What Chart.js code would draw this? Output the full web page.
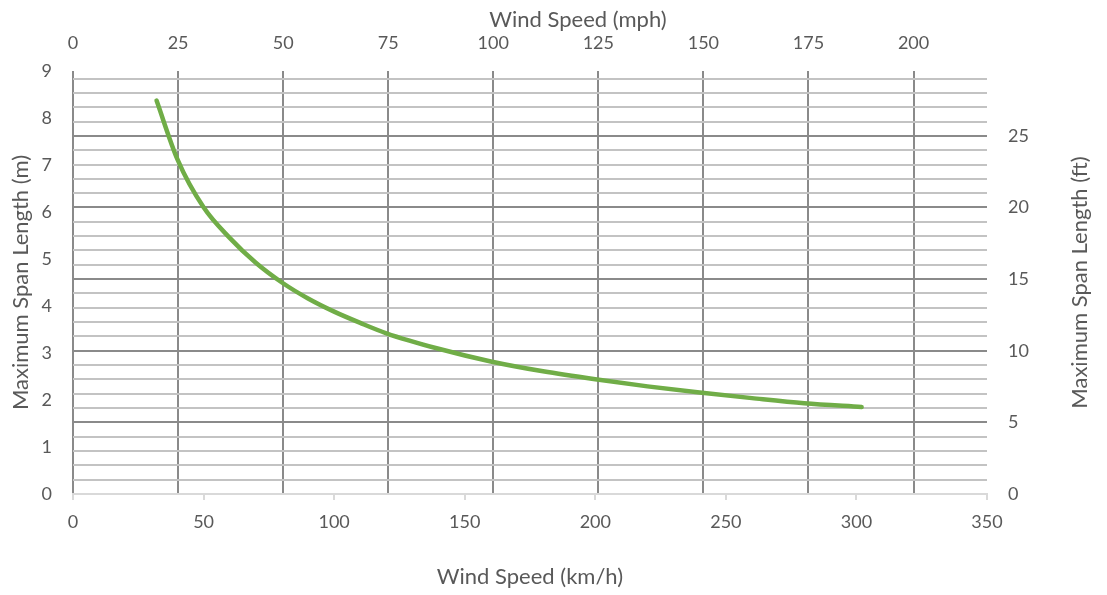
<!DOCTYPE html>
<html>
<head>
<meta charset="utf-8">
<script src="https://cdn.jsdelivr.net/npm/chart.js@4.4.1/dist/chart.umd.min.js"></script>
<style>
  html, body { margin: 0; padding: 0; background: #ffffff; }
  #wrap { width: 1107px; height: 595px; position: relative; }
</style>
</head>
<body>
<div id="wrap"><canvas id="c" width="1107" height="595"></canvas></div>
<script>
// Data
const speedKmh = [32, 40, 50, 60, 70, 80, 90, 100, 110, 120, 140, 160, 180, 200, 220, 240, 260, 280, 302];
const spanM    = [8.37, 7.12, 6.10, 5.45, 4.92, 4.50, 4.16, 3.88, 3.64, 3.42, 3.09, 2.82, 2.61, 2.44, 2.29, 2.16, 2.04, 1.93, 1.85];

// Axis settings
const kmhMax = 350, kmhStep = 50;
const mphStep = 25;
const mMax = 9, mStep = 1;
const ftMajor = 5;
const KMH_PER_MPH = 1.609344;
const M_PER_FT = 0.3048;

const titleFont = { family: 'Lato', size: 22 };
const tickFont = { family: 'Lato', size: 18 };
const textColor = '#595959';
const darkGrid = '#8a8a8a';
const lightGrid = '#c3c3c3';

const points = speedKmh.map((v, i) => ({ x: v, y: spanM[i] }));

const extraTitles = {
  id: 'extraTitles',
  afterDraw(chart) {
    const { ctx, chartArea } = chart;
    ctx.save();
    ctx.fillStyle = textColor;
    ctx.font = `${titleFont.size}px ${titleFont.family}`;
    ctx.textAlign = 'center';
    ctx.textBaseline = 'middle';
    ctx.fillText('Wind Speed (mph)', 578, 20);
    ctx.translate(1080, (chartArea.top + chartArea.bottom) / 2);
    ctx.rotate(-Math.PI / 2);
    ctx.fillText('Maximum Span Length (ft)', 0, 0);
    ctx.restore();
  }
};

new Chart(document.getElementById('c'), {
  type: 'scatter',
  data: {
    datasets: [{
      data: points,
      showLine: true,
      borderColor: '#70AD47',
      backgroundColor: '#70AD47',
      borderWidth: 4.5,
      borderCapStyle: 'round',
      pointRadius: 0,
      cubicInterpolationMode: 'monotone',
      xAxisID: 'x',
      yAxisID: 'y'
    }]
  },
  options: {
    responsive: false,
    animation: false,
    layout: { padding: 0 },
    plugins: { legend: { display: false }, tooltip: { enabled: false } },
    scales: {
      x: {
        type: 'linear', position: 'bottom', min: 0, max: kmhMax,
        ticks: { stepSize: kmhStep, color: textColor, font: tickFont, padding: 11, maxRotation: 0 },
        grid: { drawOnChartArea: false, drawTicks: true, tickLength: 6, color: '#d9d9d9', lineWidth: 2 },
        border: { display: true, color: '#d9d9d9', width: 2 },
        title: { display: true, text: 'Wind Speed (km/h)', color: textColor, font: titleFont, padding: { top: 4, bottom: 5 } },
        afterFit(s) { s.height = 101; }
      },
      x2: {
        type: 'linear', position: 'top', min: 0, max: kmhMax / KMH_PER_MPH,
        ticks: { stepSize: mphStep, color: textColor, font: tickFont, padding: 17, includeBounds: false, maxRotation: 0 },
        grid: { drawOnChartArea: true, drawTicks: false, color: darkGrid, lineWidth: 2 },
        border: { display: false },
        title: { display: false },
        afterFit(s) { s.height = 71; }
      },
      y: {
        type: 'linear', position: 'left', min: 0, max: mMax,
        ticks: { stepSize: mStep, color: textColor, font: tickFont, padding: 21 },
        grid: { drawOnChartArea: false, drawTicks: false },
        border: { display: false },
        title: { display: true, text: 'Maximum Span Length (m)', color: textColor, font: titleFont, padding: { top: 8, bottom: 4 } },
        afterFit(s) { s.width = 73; }
      },
      y2: {
        type: 'linear', position: 'right', min: 0, max: mMax / M_PER_FT,
        ticks: {
          stepSize: 1, autoSkip: false, includeBounds: false, color: textColor, font: tickFont, padding: 21,
          callback: (v) => (Math.round(v) % ftMajor === 0 ? String(Math.round(v)) : '')
        },
        grid: {
          drawOnChartArea: true, drawTicks: false,
          color: (c) => (c.tick && Math.round(c.tick.value) % ftMajor === 0 ? darkGrid : lightGrid),
          lineWidth: 2
        },
        border: { display: false },
        title: { display: false },
        afterFit(s) { s.width = 120; }
      }
    }
  },
  plugins: [extraTitles]
});
</script>
</body>
</html>
